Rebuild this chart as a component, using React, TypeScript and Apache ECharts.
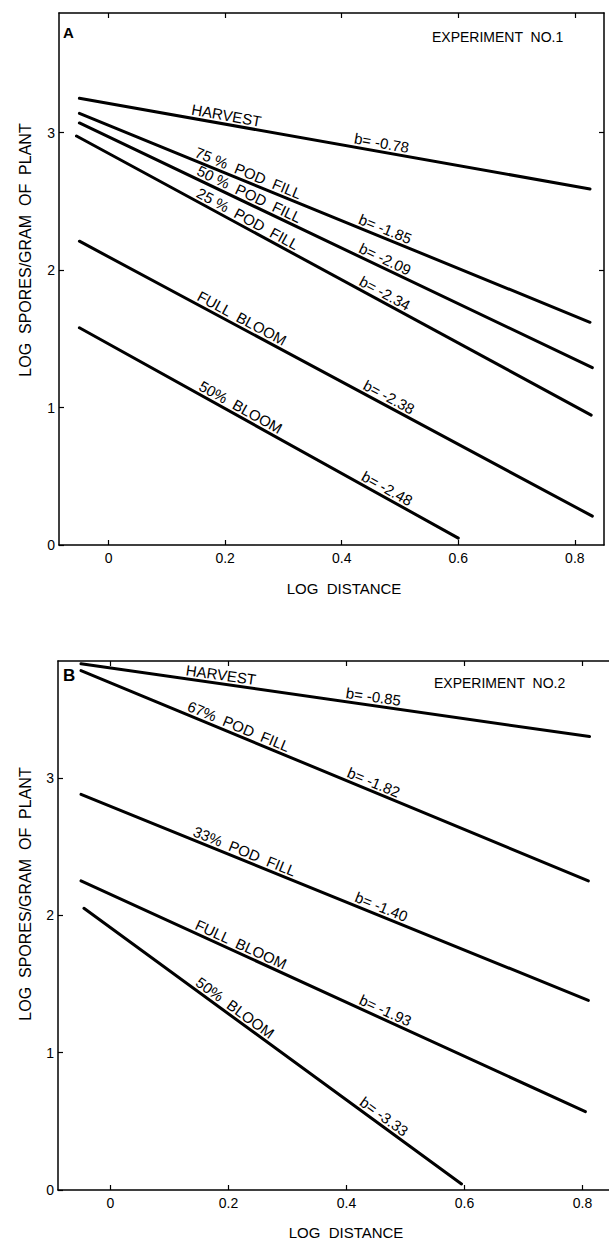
import React, { useEffect, useRef } from "react";
import * as echarts from "echarts";

const X_TICKS = [0, 0.2, 0.4, 0.6, 0.8];
const Y_TICKS = [0, 1, 2, 3];

// Experiment No. 1 (panel A)
const A_NAMES = ["HARVEST", "75 %  POD  FILL", "50 %  POD  FILL", "25 %  POD  FILL", "FULL  BLOOM", "50%  BLOOM"];
const A_SLOPES = ["b= -0.78", "b= -1.85", "b= -2.09", "b= -2.34", "b= -2.38", "b= -2.48"];
const A_START_X = [-0.05, -0.05, -0.05, -0.055, -0.05, -0.05];
const A_START_Y = [3.25, 3.14, 3.07, 2.975, 2.21, 1.58];
const A_END_X = [0.826, 0.826, 0.83, 0.828, 0.83, 0.6];
const A_END_Y = [2.59, 1.62, 1.29, 0.945, 0.21, 0.05];
const A_NAME_AT = [0.14, 0.144, 0.147, 0.146, 0.147, 0.15];
const A_SLOPE_AT = [0.419, 0.425, 0.425, 0.425, 0.432, 0.429];

// Experiment No. 2 (panel B)
const B_NAMES = ["HARVEST", "67%  POD  FILL", "33%  POD  FILL", "FULL  BLOOM", "50%  BLOOM"];
const B_SLOPES = ["b= -0.85", "b= -1.82", "b= -1.40", "b= -1.93", "b= -3.33"];
const B_START_X = [-0.05, -0.05, -0.05, -0.05, -0.045];
const B_START_Y = [3.83, 3.78, 2.88, 2.25, 2.05];
const B_END_X = [0.812, 0.81, 0.81, 0.805, 0.595];
const B_END_Y = [3.3, 2.25, 1.38, 0.57, 0.044];
const B_NAME_AT = [0.126, 0.126, 0.136, 0.139, 0.139];
const B_SLOPE_AT = [0.397, 0.397, 0.41, 0.417, 0.417];

const FONT = "Liberation Sans";

export default function App() {
  const ref = useRef<HTMLDivElement>(null);

  useEffect(() => {
    if (!ref.current) return;
    const chart = echarts.init(ref.current, null, { renderer: "svg" });

    const axisLine = { show: true, onZero: false, lineStyle: { color: "#000", width: 1.5 } };
    const xLabel = {
      customValues: X_TICKS,
      color: "#000",
      fontSize: 14,
      fontFamily: FONT,
      margin: 6,
      formatter: (v: number) => (v === 0 ? "0" : v.toFixed(1)),
    };
    const yLabel = { customValues: Y_TICKS, color: "#000", fontSize: 14, fontFamily: FONT, margin: 4 };
    const tickIn = (vals: number[]) => ({ show: true, inside: true, length: 5, customValues: vals, lineStyle: { color: "#000", width: 1.2 } });

    const mkSeries = (sx: number[], sy: number[], ex: number[], ey: number[], axis: number) =>
      sx.map((_, i) => ({
        type: "line",
        xAxisIndex: axis,
        yAxisIndex: axis === 0 ? 0 : 2,
        data: [
          [sx[i], sy[i]],
          [ex[i], ey[i]],
        ],
        symbol: "none",
        silent: true,
        lineStyle: { color: "#000", width: 3, cap: "round" },
      }));

    const series = [
      ...mkSeries(A_START_X, A_START_Y, A_END_X, A_END_Y, 0),
      ...mkSeries(B_START_X, B_START_Y, B_END_X, B_END_Y, 2),
    ];

    chart.setOption({
      animation: false,
      backgroundColor: "#fff",
      grid: [
        { left: 59, top: 13, width: 545, height: 532 },
        { left: 58, top: 661, width: 551, height: 529 },
      ],
      xAxis: [
        { gridIndex: 0, type: "value", min: -0.085, max: 0.85, position: "bottom", axisLine, axisTick: tickIn(X_TICKS), axisLabel: xLabel, splitLine: { show: false } },
        { gridIndex: 0, type: "value", min: -0.085, max: 0.85, position: "top", axisLine, axisTick: tickIn(X_TICKS), axisLabel: { show: false }, splitLine: { show: false } },
        { gridIndex: 1, type: "value", min: -0.089, max: 0.845, position: "bottom", axisLine, axisTick: tickIn(X_TICKS), axisLabel: xLabel, splitLine: { show: false } },
        { gridIndex: 1, type: "value", min: -0.089, max: 0.845, position: "top", axisLine, axisTick: tickIn(X_TICKS), axisLabel: { show: false }, splitLine: { show: false } },
      ],
      yAxis: [
        { gridIndex: 0, type: "value", min: 0, max: 3.87, position: "left", axisLine, axisTick: tickIn(Y_TICKS), axisLabel: yLabel, splitLine: { show: false } },
        { gridIndex: 0, type: "value", min: 0, max: 3.87, position: "right", axisLine, axisTick: tickIn([2, 3]), axisLabel: { show: false }, splitLine: { show: false } },
        { gridIndex: 1, type: "value", min: 0, max: 3.85, position: "left", axisLine, axisTick: tickIn(Y_TICKS), axisLabel: yLabel, splitLine: { show: false } },
      ],
      series,
    });

    const graphics: any[] = [];
    const addLineLabels = (
      names: string[],
      slopes: string[],
      sx: number[],
      sy: number[],
      ex: number[],
      ey: number[],
      nameAt: number[],
      slopeAt: number[],
      seriesOffset: number
    ) => {
      names.forEach((name, i) => {
        const si = seriesOffset + i;
        const p0 = chart.convertToPixel({ seriesIndex: si }, [sx[i], sy[i]]) as number[];
        const p1 = chart.convertToPixel({ seriesIndex: si }, [ex[i], ey[i]]) as number[];
        const ang = Math.atan2(p1[1] - p0[1], p1[0] - p0[0]);
        const at = (xv: number) => {
          const yv = sy[i] + ((ey[i] - sy[i]) * (xv - sx[i])) / (ex[i] - sx[i]);
          const p = chart.convertToPixel({ seriesIndex: si }, [xv, yv]) as number[];
          const off = 1.5;
          return [p[0] + off * Math.sin(ang), p[1] - off * Math.cos(ang)];
        };
        [
          [name, nameAt[i]],
          [slopes[i], slopeAt[i]],
        ].forEach(([txt, xv]) => {
          const q = at(xv as number);
          graphics.push({
            type: "text",
            x: q[0],
            y: q[1],
            rotation: -ang,
            silent: true,
            style: {
              text: txt,
              fontSize: 15,
              fontFamily: FONT,
              fill: "#000",
              textAlign: "left",
              textVerticalAlign: "bottom",
            },
          });
        });
      });
    };
    addLineLabels(A_NAMES, A_SLOPES, A_START_X, A_START_Y, A_END_X, A_END_Y, A_NAME_AT, A_SLOPE_AT, 0);
    addLineLabels(B_NAMES, B_SLOPES, B_START_X, B_START_Y, B_END_X, B_END_Y, B_NAME_AT, B_SLOPE_AT, A_NAMES.length);

    const txt = (text: string, x: number, y: number, opts: any = {}) => ({
      type: "text",
      x,
      y,
      rotation: opts.rotation || 0,
      silent: true,
      style: {
        text,
        fontSize: opts.fontSize || 14,
        fontWeight: opts.fontWeight || "normal",
        fontFamily: FONT,
        fill: "#000",
        textAlign: opts.align || "left",
        textVerticalAlign: opts.valign || "middle",
      },
    });

    graphics.push(
      txt("A", 63, 32, { fontSize: 15, fontWeight: "bold" }),
      txt("EXPERIMENT  NO.1", 432, 37),
      txt("LOG  DISTANCE", 344, 588, { align: "center", fontSize: 15 }),
      txt("LOG  SPORES/GRAM  OF  PLANT", 25, 250, { align: "center", rotation: Math.PI / 2, fontSize: 16 }),
      txt("B", 63, 675, { fontSize: 17, fontWeight: "bold" }),
      txt("EXPERIMENT  NO.2", 434, 683),
      txt("LOG  DISTANCE", 346, 1232, { align: "center", fontSize: 15 }),
      txt("LOG  SPORES/GRAM  OF  PLANT", 25, 894, { align: "center", rotation: Math.PI / 2, fontSize: 16 })
    );

    chart.setOption({ graphic: graphics });

    return () => chart.dispose();
  }, []);

  return (
    <div
      ref={ref}
      style={{ position: "absolute", left: 0, top: 0, width: 609, height: 1240, background: "#fff" }}
    />
  );
}
